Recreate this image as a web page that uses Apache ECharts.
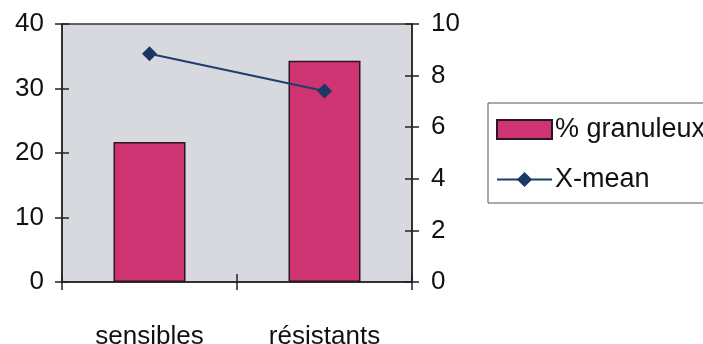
<!DOCTYPE html>
<html>
<head>
<meta charset="utf-8">
<script src="https://cdn.jsdelivr.net/npm/echarts@6/dist/echarts.min.js"></script>
<style>html,body{margin:0;padding:0;background:#fff;overflow:hidden;}#c{width:703px;height:344px;}</style>
</head>
<body>
<div id="c"></div>
<script>
const categories = ['sensibles', 'résistants'];
const granuleux = [21.7, 34.3];
const xMean = [8.85, 7.4];
const leftTicks = [0, 10, 20, 30, 40];
const rightTicks = [0, 2, 4, 6, 8, 10];

const FONT = '"Liberation Sans", Arial, sans-serif';
const chart = echarts.init(document.getElementById('c'), null, {renderer: 'canvas'});
const axisLineStyle = {color: '#222', width: 1.5};
chart.setOption({
  animation: false,
  backgroundColor: '#ffffff',
  textStyle: {fontFamily: FONT},
  grid: {left: 62, right: 291, top: 24, bottom: 62, outerBoundsMode: 'none', containLabel: false,
         show: true, backgroundColor: '#d7d9de', borderColor: '#333', borderWidth: 1.5},
  legend: {
    orient: 'vertical', left: 488, top: 103,
    padding: [13, 10, 10, 8], itemGap: 23,
    itemWidth: 55, itemHeight: 19,
    borderColor: '#555', borderWidth: 1, backgroundColor: '#fff',
    textStyle: {fontSize: 27, color: '#111', fontFamily: FONT, width: 200, overflow: 'none', padding: [0, 0, 0, -2]},
    data: [{name: '% granuleux', icon: 'rect'}, {name: 'X-mean'}]
  },
  xAxis: [
    {type: 'category', data: categories, position: 'bottom',
     axisLine: {lineStyle: axisLineStyle}, axisTick: {show: true, length: 8, lineStyle: axisLineStyle},
     axisLabel: {fontSize: 26, color: '#111', margin: 42, fontFamily: FONT}},
    {type: 'category', data: categories, position: 'bottom',
     axisLine: {show: false}, axisTick: {show: true, inside: true, length: 8, lineStyle: axisLineStyle},
     axisLabel: {show: false}}
  ],
  yAxis: [
    {type: 'value', min: leftTicks[0], max: leftTicks[leftTicks.length - 1], interval: 10, position: 'left',
     axisLine: {show: true, lineStyle: axisLineStyle}, axisTick: {show: true, length: 7, lineStyle: axisLineStyle},
     splitLine: {show: false}, axisLabel: {fontSize: 26, color: '#111', margin: 18, fontFamily: FONT}},
    {type: 'value', min: rightTicks[0], max: rightTicks[rightTicks.length - 1], interval: 2, position: 'right',
     axisLine: {show: true, lineStyle: axisLineStyle}, axisTick: {show: true, length: 7, lineStyle: axisLineStyle},
     splitLine: {show: false}, axisLabel: {fontSize: 26, color: '#111', margin: 19, fontFamily: FONT}},
    {type: 'value', min: 0, max: 40, interval: 10, position: 'left',
     axisLine: {show: false}, axisTick: {show: true, inside: true, length: 7, lineStyle: axisLineStyle},
     splitLine: {show: false}, axisLabel: {show: false}},
    {type: 'value', min: 0, max: 10, interval: 2, position: 'right',
     axisLine: {show: false}, axisTick: {show: true, inside: true, length: 7, lineStyle: axisLineStyle},
     splitLine: {show: false}, axisLabel: {show: false}}
  ],
  series: [
    {name: '% granuleux', type: 'bar', xAxisIndex: 0, yAxisIndex: 0, data: granuleux, barWidth: 72,
     itemStyle: {color: '#cf3472', borderColor: '#2a1620', borderWidth: 1.5}},
    {name: 'X-mean', type: 'line', xAxisIndex: 0, yAxisIndex: 1, data: xMean,
     symbol: 'diamond', symbolSize: 15,
     lineStyle: {color: '#1f3d6e', width: 2}, itemStyle: {color: '#1b3766'}}
  ]
});
</script>
</body>
</html>
